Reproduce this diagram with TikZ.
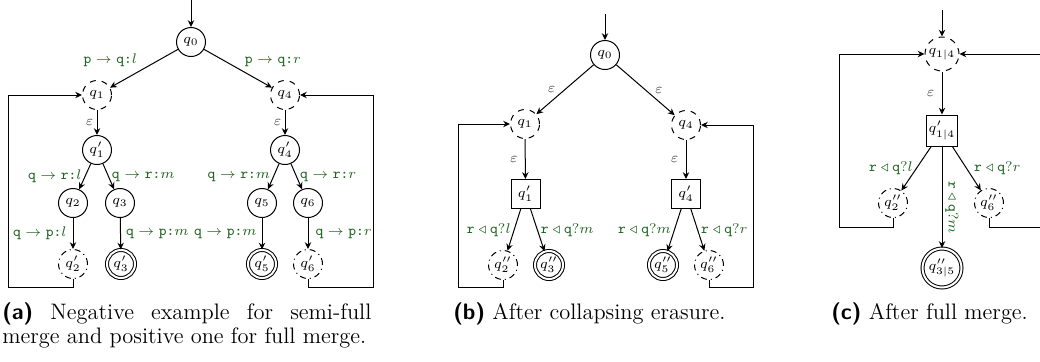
\documentclass[tikz,border=0pt]{standalone}
\usetikzlibrary{arrows.meta}
\definecolor{lgreen}{RGB}{34,102,34}
\newcommand{\sndlab}[3]{$\texttt{#1}\rightarrow\texttt{#2}\texttt{:}#3$}
\newcommand{\rcvlab}[3]{$\texttt{#1}\triangleleft\texttt{#2}?#3$}
\newcommand{\capfont}{\fontsize{11.2}{13}\selectfont}
\begin{document}
\begin{tikzpicture}[x=0.5pt,y=-0.5pt,
  st/.style={circle,draw,line width=0.5pt,minimum size=14.5pt,inner sep=0pt,font=\fontsize{7}{8}\selectfont},
  hid/.style={st,dashed},
  dd/.style={st,dash dot},
  fin/.style={st,double,double distance=1pt,minimum size=14pt},
  bx/.style={rectangle,draw,line width=0.5pt,minimum size=14.5pt,inner sep=1pt,font=\fontsize{7}{8}\selectfont},
  tr/.style={-{Stealth[length=3.4pt,width=3.2pt]},line width=0.5pt},
  lab/.style={font=\fontsize{7.3}{8}\selectfont,text=lgreen,inner sep=1.5pt},
  eps/.style={font=\fontsize{7.5}{8}\selectfont,text=black!70,inner sep=1.5pt},
  captext/.style={font=\capfont,inner sep=0pt,anchor=base west}
]
\clip (0,0) rectangle (1040,361);
\useasboundingbox (0,0) rectangle (1040,361);

% ---------------- (a) ----------------
\coordinate (ia) at (191,0);
\node[st]  (q0a)  at (191,42) {$q_0$};
\node[hid] (q1a)  at (97,95)  {$q_1$};
\node[hid] (q4a)  at (285,95) {$q_4$};
\node[st]  (q1pa) at (97,150) {$q'_1$};
\node[st]  (q4pa) at (285,150) {$q'_4$};
\node[st]  (q2a)  at (73,203) {$q_2$};
\node[st]  (q3a)  at (120,203) {$q_3$};
\node[st]  (q5a)  at (262,203) {$q_5$};
\node[st]  (q6a)  at (308,203) {$q_6$};
\node[dd]  (q2pa) at (73,264) {$q'_2$};
\node[fin] (q3pa) at (121,264) {$q'_3$};
\node[fin] (q5pa) at (262,264) {$q'_5$};
\node[dd]  (q6pa) at (308,264) {$q'_6$};

\draw[tr] (ia) -- (q0a);
\draw[tr] (q0a) -- node[lab,pos=0.55,above left] {\sndlab{p}{q}{l}} (q1a);
\draw[tr] (q0a) -- node[lab,pos=0.55,above right] {\sndlab{p}{q}{r}} (q4a);
\draw[tr] (q1a) -- node[eps,left] {$\varepsilon$} (q1pa);
\draw[tr] (q4a) -- node[eps,left] {$\varepsilon$} (q4pa);
\draw[tr] (q1pa) -- node[lab,left] {\sndlab{q}{r}{l}} (q2a);
\draw[tr] (q1pa) -- node[lab,right] {\sndlab{q}{r}{m}} (q3a);
\draw[tr] (q4pa) -- node[lab,left] {\sndlab{q}{r}{m}} (q5a);
\draw[tr] (q4pa) -- node[lab,right] {\sndlab{q}{r}{r}} (q6a);
\draw[tr] (q2a) -- node[lab,left=1.5pt] {\sndlab{q}{p}{l}} (q2pa);
\draw[tr] (q3a) -- node[lab,right=1pt] {\sndlab{q}{p}{m}} (q3pa);
\draw[tr] (q5a) -- node[lab,left=1pt] {\sndlab{q}{p}{m}} (q5pa);
\draw[tr] (q6a) -- node[lab,right=2pt] {\sndlab{q}{p}{r}} (q6pa);
\draw[tr] (q2pa.south) |- (8,287) |- (q1a.west);
\draw[tr] (q6pa.south) |- (373,287) |- (q4a.east);

\node[captext] (capa1) at (2,319) {\makebox[184.5pt][s]{\textsf{\textbf{(a)}} Negative example for semi-full}};
\node[captext] (capa2) at (2,343) {merge and positive one for full merge.};

% ---------------- (b) ----------------
\coordinate (ib) at (605,14);
\node[st]  (q0b)  at (605,55) {$q_0$};
\node[hid] (q1b)  at (525,124) {$q_1$};
\node[hid] (q4b)  at (686,125) {$q_4$};
\node[bx]  (q1pb) at (525.5,194) {$q'_1$};
\node[bx]  (q4pb) at (686,194) {$q'_4$};
\node[dd]  (q2b)  at (503,265) {$q''_2$};
\node[fin] (q3b)  at (549,265) {$q''_3$};
\node[fin] (q5b)  at (663,265) {$q''_5$};
\node[dd]  (q6b)  at (709,265) {$q''_6$};

\draw[tr] (ib) -- (q0b);
\draw[tr] (q0b) -- node[eps,left=3pt] {$\varepsilon$} (q1b);
\draw[tr] (q0b) -- node[eps,right=3pt] {$\varepsilon$} (q4b);
\draw[tr] (q1b) -- node[eps,left=2pt] {$\varepsilon$} (q1pb);
\draw[tr] (q4b) -- node[eps,left=2pt] {$\varepsilon$} (q4pb);
\draw[tr] (q1pb) -- node[lab,left] {\rcvlab{r}{q}{l}} (q2b);
\draw[tr] (q1pb) -- node[lab,right] {\rcvlab{r}{q}{m}} (q3b);
\draw[tr] (q4pb) -- node[lab,left] {\rcvlab{r}{q}{m}} (q5b);
\draw[tr] (q4pb) -- node[lab,right] {\rcvlab{r}{q}{r}} (q6b);
\draw[tr] (q2b.south) |- (458,287) |- (q1b.west);
\draw[tr] (q6b.south) |- (753,287) |- (q4b.east);

\node[captext] (capb) at (453,319) {\textsf{\textbf{(b)}} After collapsing erasure.};

% ---------------- (c) ----------------
\coordinate (ic) at (942,10);
\node[hid,minimum size=17pt] (q14) at (942,54) {$q_{1|4}$};
\node[bx,minimum size=15.5pt,inner sep=0.5pt] (q14p) at (942,130.5) {$q'_{1|4}$};
\node[dd]  (q2c) at (893,203) {$q''_2$};
\node[dd]  (q6c) at (989,203) {$q''_6$};
\node[fin,minimum size=19.5pt] (q35) at (942,268) {$q''_{3|5}$};

\draw[tr] (ic) -- (q14);
\draw[tr] (q14) -- node[eps,left=2pt] {$\varepsilon$} (q14p);
\draw[tr] (q14p) -- node[lab,left] {\rcvlab{r}{q}{l}} (q2c);
\draw[tr] (q14p) -- node[lab,right=2pt] {\rcvlab{r}{q}{r}} (q6c);
\draw[tr] (q14p) -- node[lab,pos=0.6,sloped,above] {\rcvlab{r}{q}{m}} (q35);
\draw[tr] (q2c.south) |- (839,227) |- (q14.west);
\draw[tr] (q6c.south) |- (1085,227) |- (q14.east);

\node[captext] (capc) at (831,319) {\textsf{\textbf{(c)}} After full merge.};
\end{tikzpicture}
\end{document}
